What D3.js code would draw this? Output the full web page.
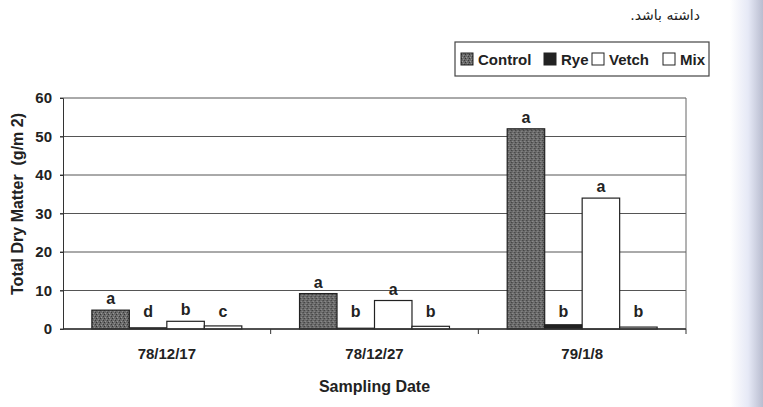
<!DOCTYPE html>
<html>
<head>
<meta charset="utf-8">
<script src="https://cdn.jsdelivr.net/npm/d3@7"></script>
<style>
  body { margin: 0; background: #fff; }
  svg { display: block; }
  text { font-family: "Liberation Sans", Arial, sans-serif; font-weight: bold; fill: #222; }
</style>
</head>
<body>
<div id="chart"></div>
<script>
var dates = ['78/12/17', '78/12/27', '79/1/8'];
var series = ['Control', 'Rye', 'Vetch', 'Mix'];
var control = [4.9, 9.2, 52];
var rye = [0.3, 0.2, 1.1];
var vetch = [2.0, 7.4, 34];
var mix = [0.8, 0.7, 0.5];
var letters = [
  ['a', 'd', 'b', 'c'],
  ['a', 'b', 'a', 'b'],
  ['a', 'b', 'a', 'b']
];
var yTicks = [0, 10, 20, 30, 40, 50, 60];

var W = 763, H = 407;
var mLeft = 63, mRight = 686, mTop = 98, mBottom = 329;

var svg = d3.select('#chart').append('svg')
  .attr('width', W).attr('height', H);

var defs = svg.append('defs');
// stippled gray fill like the scanned "Control" bars
var pat = defs.append('pattern').attr('id', 'stipple')
  .attr('width', 4).attr('height', 4).attr('patternUnits', 'userSpaceOnUse');
pat.append('rect').attr('width', 4).attr('height', 4).attr('fill', '#6a6a6a');
pat.append('rect').attr('x', 0).attr('y', 0).attr('width', 1).attr('height', 1).attr('fill', '#3a3a3a');
pat.append('rect').attr('x', 2).attr('y', 1).attr('width', 1).attr('height', 1).attr('fill', '#999');
pat.append('rect').attr('x', 1).attr('y', 2).attr('width', 1).attr('height', 1).attr('fill', '#333');
pat.append('rect').attr('x', 3).attr('y', 3).attr('width', 1).attr('height', 1).attr('fill', '#8c8c8c');

// page-edge shadow of the scan
var grad = defs.append('linearGradient').attr('id', 'edge')
  .attr('x1', '0%').attr('x2', '100%');
grad.append('stop').attr('offset', '0%').attr('stop-color', '#ffffff');
grad.append('stop').attr('offset', '55%').attr('stop-color', '#e6e9f6');
grad.append('stop').attr('offset', '100%').attr('stop-color', '#b9bdd0');
svg.append('rect').attr('x', 730).attr('y', 0).attr('width', 33).attr('height', H)
  .attr('fill', 'url(#edge)');

var fills = {Control: 'url(#stipple)', Rye: '#222', Vetch: '#fff', Mix: '#fff'};
var values = {Control: control, Rye: rye, Vetch: vetch, Mix: mix};

var x0 = d3.scaleBand().domain(dates).range([mLeft, mRight]).padding(0);
var x1 = d3.scaleBand().domain(series).range([0, x0.bandwidth()])
  .paddingInner(0).paddingOuter(0.77);
var y = d3.scaleLinear().domain([0, 60]).range([mBottom, mTop]);

// gridlines
svg.append('g').selectAll('line').data(yTicks).join('line')
  .attr('x1', mLeft - 3).attr('x2', mRight)
  .attr('y1', d => y(d)).attr('y2', d => y(d))
  .attr('stroke', '#555').attr('stroke-width', 1);

// right border
svg.append('line').attr('x1', mRight).attr('x2', mRight)
  .attr('y1', mTop).attr('y2', mBottom).attr('stroke', '#666');

// y axis
var yAxis = svg.append('g').attr('transform', 'translate(' + mLeft + ',0)')
  .call(d3.axisLeft(y).tickValues(yTicks).tickSize(3).tickPadding(8));
yAxis.select('.domain').attr('stroke', '#333');
yAxis.selectAll('text').style('font-size', '15px').attr('fill', '#222');
yAxis.selectAll('.tick line').attr('stroke', '#333');

// bars
var groups = svg.append('g').selectAll('g').data(dates).join('g')
  .attr('transform', d => 'translate(' + x0(d) + ',0)');
groups.selectAll('rect').data((d, i) => series.map(s => ({s: s, v: values[s][i]})))
  .join('rect')
  .attr('x', d => x1(d.s))
  .attr('y', d => y(d.v))
  .attr('width', x1.bandwidth())
  .attr('height', d => y(0) - y(d.v))
  .attr('fill', d => fills[d.s])
  .attr('stroke', '#222').attr('stroke-width', 1.2);

// significance letters
groups.selectAll('text.sig').data((d, i) => series.map((s, j) => ({s: s, v: values[s][i], l: letters[i][j]})))
  .join('text').attr('class', 'sig')
  .attr('x', d => x1(d.s) + x1.bandwidth() / 2)
  .attr('y', d => Math.min(y(d.v) - 6, y(0) - 12))
  .attr('text-anchor', 'middle')
  .style('font-size', '16px')
  .text(d => d.l);

// x axis
var xAxis = svg.append('g').attr('transform', 'translate(0,' + mBottom + ')');
xAxis.append('line').attr('x1', mLeft).attr('x2', mRight).attr('stroke', '#333').attr('stroke-width', 1.3);
xAxis.selectAll('line.tk').data(dates).join('line').attr('class', 'tk')
  .attr('x1', d => x0(d) + x0.bandwidth())
  .attr('x2', d => x0(d) + x0.bandwidth())
  .attr('y1', 0).attr('y2', 5).attr('stroke', '#333');
xAxis.selectAll('text').data(dates).join('text')
  .attr('x', d => x0(d) + x0.bandwidth() / 2)
  .attr('y', 30)
  .attr('text-anchor', 'middle')
  .style('font-size', '15px')
  .text(d => d);

// axis titles
svg.append('text').attr('x', (mLeft + mRight) / 2).attr('y', 392)
  .attr('text-anchor', 'middle').style('font-size', '16px').text('Sampling Date');
svg.append('text').attr('transform', 'translate(23,204) rotate(-90)')
  .attr('text-anchor', 'middle').style('font-size', '16px')
  .style('white-space', 'pre')
  .text('Total Dry Matter  (g/m 2)');

// legend
var lg = svg.append('g');
lg.append('rect').attr('x', 455).attr('y', 42).attr('width', 254).attr('height', 34)
  .attr('fill', 'none').attr('stroke', '#444').attr('stroke-width', 1.2);
var legX = [461, 544, 592, 663];
lg.selectAll('rect.sw').data(series).join('rect').attr('class', 'sw')
  .attr('x', (d, i) => legX[i]).attr('y', 53).attr('width', 12).attr('height', 12)
  .attr('fill', d => fills[d]).attr('stroke', '#222');
lg.selectAll('text').data(series).join('text')
  .attr('x', (d, i) => legX[i] + 17).attr('y', 65)
  .style('font-size', '15px')
  .text(d => d);

// scanned page text at top
svg.append('text').attr('x', 700).attr('y', 20)
  .attr('direction', 'rtl').attr('text-anchor', 'start')
  .style('font-family', '"DejaVu Sans", sans-serif').style('font-weight', 'normal')
  .style('font-size', '14px').attr('fill', '#666')
  .text('داشته باشد.');
</script>
</body>
</html>
